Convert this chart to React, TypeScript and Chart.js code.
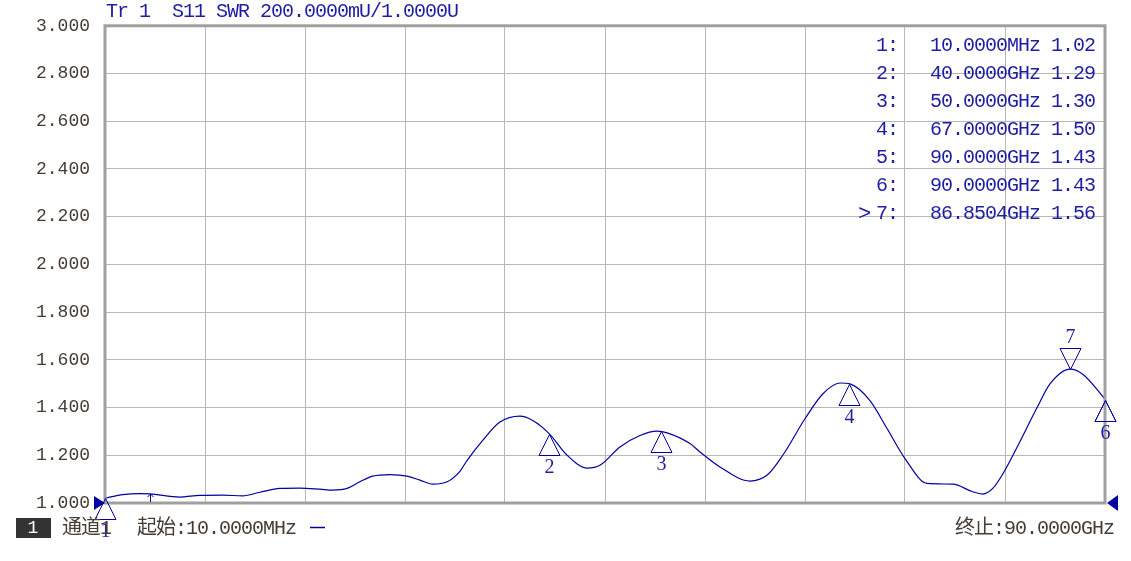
import React, { useEffect, useRef } from "react";
import { Chart, registerables } from "chart.js";

Chart.register(...registerables);

// ---- data ----
const freqGHz = [
  0.01, 1.62, 3.15, 4.05, 6.75, 8.55, 10.6, 12.4, 13.95, 15.75, 17.55, 19.35, 20.5, 21.8, 22.95,
  24.1, 25.65, 27.2, 28.35, 29.5, 30.8, 31.95, 32.6, 34.0, 35.55, 37.35, 38.5, 40.0, 41.6, 43.4,
  44.55, 46.35, 48.15, 49.7, 50.6, 52.65, 53.55, 55.35, 58.05, 59.6, 61.0, 63.0, 64.6, 66.15,
  67.05, 68.85, 70.4, 72.0, 74.0, 76.3, 78.1, 79.0, 79.9, 81.0, 82.1, 83.9, 85.05, 86.85, 88.0, 90.0,
];
const swrValues = [
  1.02, 1.035, 1.039, 1.038, 1.025, 1.032, 1.033, 1.03, 1.045, 1.061, 1.0625, 1.058, 1.054, 1.061, 1.089,
  1.1125, 1.119, 1.1125, 1.096, 1.079, 1.089, 1.133, 1.179, 1.2625, 1.339, 1.364, 1.346, 1.29, 1.2, 1.146,
  1.158, 1.235, 1.283, 1.301, 1.294, 1.249, 1.214, 1.151, 1.092, 1.117, 1.2, 1.353, 1.457, 1.503,
  1.499, 1.429, 1.311, 1.186, 1.082, 1.079, 1.047, 1.0375, 1.061, 1.1375, 1.235, 1.401, 1.499, 1.561, 1.54, 1.436,
];

const xMinGHz = 0.01;
const xMaxGHz = 90;
const yMin = 1.0;
const yMax = 3.0;
const yStep = 0.2;

const markerIds = ["1", "2", "3", "4", "5", "6", "7"];
const markerFreqGHz = [0.01, 40, 50, 67, 90, 90, 86.8504];
const markerSwr = [1.02, 1.29, 1.3, 1.5, 1.43, 1.43, 1.56];
const markerFreqText = [
  "10.0000MHz", "40.0000GHz", "50.0000GHz", "67.0000GHz", "90.0000GHz", "90.0000GHz", "86.8504GHz",
];
const markerValueText = ["1.02", "1.29", "1.30", "1.50", "1.43", "1.43", "1.56"];
const activeMarker = "7";

const refArrowGHz = [4.05];

const titleText = "Tr 1  S11 SWR 200.0000mU/1.0000U";
const channelNum = "1";
const channelText = "通道1";
const startText = "起始:10.0000MHz";
const stopText = "终止:90.0000GHz";

// ---- styles ----
const TRACE = "#0000a0";
const TEXT_BLUE = "#1e1ea0";
const TEXT_GRAY = "#463c34";
const GRID = "#b8b8b8";
const FRAME = "#a0a0a0";
const MONO = "'Liberation Mono', 'Noto Sans CJK SC', monospace";

const overlayPlugin = {
  id: "vnaOverlay",
  afterDraw(chart: any) {
    const ctx: CanvasRenderingContext2D = chart.ctx;
    const xs = chart.scales.x;
    const ys = chart.scales.y;
    const a = chart.chartArea;
    ctx.save();

    // frame
    ctx.strokeStyle = FRAME;
    ctx.lineWidth = 3;
    ctx.strokeRect(a.left, a.top, a.right - a.left, a.bottom - a.top);

    // title
    ctx.fillStyle = TEXT_BLUE;
    ctx.font = `20px ${MONO}`;
    (ctx as any).letterSpacing = "-1px";
    ctx.textAlign = "left";
    ctx.textBaseline = "middle";
    ctx.fillText(titleText, a.left + 1, 12);

    // marker table
    for (let i = 0; i < markerIds.length; i++) {
      const yy = 46 + i * 28;
      ctx.textAlign = "right";
      ctx.fillText(markerIds[i] + ":", 898, yy);
      ctx.fillText(markerFreqText[i] + " " + markerValueText[i], 1095, yy);
      if (markerIds[i] === activeMarker) {
        ctx.textAlign = "left";
        ctx.font = `22px ${MONO}`;
        ctx.fillText(">", 858, yy);
        ctx.font = `20px ${MONO}`;
      }
    }
    (ctx as any).letterSpacing = "0px";

    // markers on trace
    ctx.strokeStyle = TRACE;
    ctx.lineWidth = 1;
    ctx.font = "20px 'Liberation Serif', serif";
    ctx.textAlign = "center";
    for (let i = 0; i < markerIds.length; i++) {
      const px = Math.round(xs.getPixelForValue(markerFreqGHz[i])) + 0.5;
      const py = Math.round(ys.getPixelForValue(markerSwr[i])) + 0.5;
      const up = markerIds[i] === activeMarker;
      const h = 21;
      const hw = 10.5;
      const by = up ? py - h : py + h;
      ctx.beginPath();
      ctx.moveTo(px, py);
      ctx.lineTo(px - hw, by);
      ctx.lineTo(px + hw, by);
      ctx.closePath();
      ctx.stroke();
      // a later marker at the same spot covers this one's label
      let covered = false;
      for (let j = i + 1; j < markerIds.length; j++) {
        if (markerFreqGHz[j] === markerFreqGHz[i] && markerSwr[j] === markerSwr[i]) covered = true;
      }
      if (!covered) {
        ctx.fillStyle = TEXT_BLUE;
        ctx.fillText(markerIds[i], px, up ? by - 11 : by + 12);
      }
    }

    // reference arrows
    for (const f of refArrowGHz) {
      const px = Math.round(xs.getPixelForValue(f)) + 0.5;
      const top = a.bottom - 9;
      ctx.beginPath();
      ctx.moveTo(px, a.bottom - 1);
      ctx.lineTo(px, top);
      ctx.moveTo(px - 3, top + 3);
      ctx.lineTo(px, top);
      ctx.lineTo(px + 3, top + 3);
      ctx.stroke();
    }

    // reference level triangles
    const ry = ys.getPixelForValue(yMin);
    ctx.fillStyle = TRACE;
    ctx.beginPath();
    ctx.moveTo(a.left, ry);
    ctx.lineTo(a.left - 11, ry - 7);
    ctx.lineTo(a.left - 11, ry + 7);
    ctx.closePath();
    ctx.fill();
    ctx.beginPath();
    ctx.moveTo(a.right + 2, ry);
    ctx.lineTo(a.right + 13, ry - 8);
    ctx.lineTo(a.right + 13, ry + 8);
    ctx.closePath();
    ctx.fill();

    // footer
    ctx.fillStyle = "#333333";
    ctx.fillRect(16, 518, 35, 20);
    ctx.fillStyle = "#ffffff";
    ctx.font = `18px ${MONO}`;
    ctx.textAlign = "center";
    ctx.textBaseline = "middle";
    ctx.fillText(channelNum, 33, 528);
    ctx.fillStyle = TEXT_GRAY;
    ctx.textAlign = "left";
    ctx.font = `20px ${MONO}`;
    (ctx as any).letterSpacing = "-1px";
    ctx.fillText(channelText, 62, 529);
    ctx.fillText(startText, 137, 529);
    ctx.textAlign = "right";
    ctx.fillText(stopText, 1114, 529);
    (ctx as any).letterSpacing = "0px";
    ctx.strokeStyle = TRACE;
    ctx.lineWidth = 1.5;
    ctx.beginPath();
    ctx.moveTo(310, 527.5);
    ctx.lineTo(325, 527.5);
    ctx.stroke();

    ctx.restore();
  },
};

export default function App() {
  const ref = useRef<HTMLCanvasElement | null>(null);
  useEffect(() => {
    if (!ref.current) return;
    const points = freqGHz.map((f, i) => ({ x: f, y: swrValues[i] }));
    const chart = new Chart(ref.current, {
      type: "line",
      data: {
        datasets: [
          {
            data: points,
            borderColor: TRACE,
            borderWidth: 1.2,
            pointRadius: 0,
            cubicInterpolationMode: "monotone",
            fill: false,
          },
        ],
      },
      options: {
        animation: false,
        responsive: false,
        maintainAspectRatio: false,
        layout: { padding: { left: 0, right: 26, top: 23, bottom: 0 } },
        plugins: {
          legend: { display: false },
          tooltip: { enabled: false },
          title: { display: false },
        },
        scales: {
          x: {
            type: "linear",
            min: xMinGHz,
            max: xMaxGHz,
            afterBuildTicks: (s: any) => {
              const t = [];
              for (let i = 0; i <= 10; i++) t.push({ value: xMinGHz + (i * (xMaxGHz - xMinGHz)) / 10 });
              s.ticks = t;
            },
            afterFit: (s: any) => {
              s.height = 58;
            },
            ticks: { display: false },
            grid: { color: GRID, lineWidth: 1, drawTicks: false },
            border: { display: false },
          },
          y: {
            type: "linear",
            min: yMin,
            max: yMax,
            afterFit: (s: any) => {
              s.width = 105;
            },
            ticks: {
              stepSize: yStep,
              padding: 15,
              color: TEXT_GRAY,
              font: { family: "'Liberation Mono', monospace", size: 18 },
              callback: (v: any) => Number(v).toFixed(3),
            },
            grid: { color: GRID, lineWidth: 1, drawTicks: false },
            border: { display: false },
          },
        },
      },
      plugins: [overlayPlugin],
    } as any);
    return () => chart.destroy();
  }, []);
  return (
    <div style={{ position: "fixed", left: 0, top: 0, width: 1131, height: 561, background: "#fff" }}>
      <canvas ref={ref} width={1131} height={561} style={{ width: 1131, height: 561 }} />
    </div>
  );
}
